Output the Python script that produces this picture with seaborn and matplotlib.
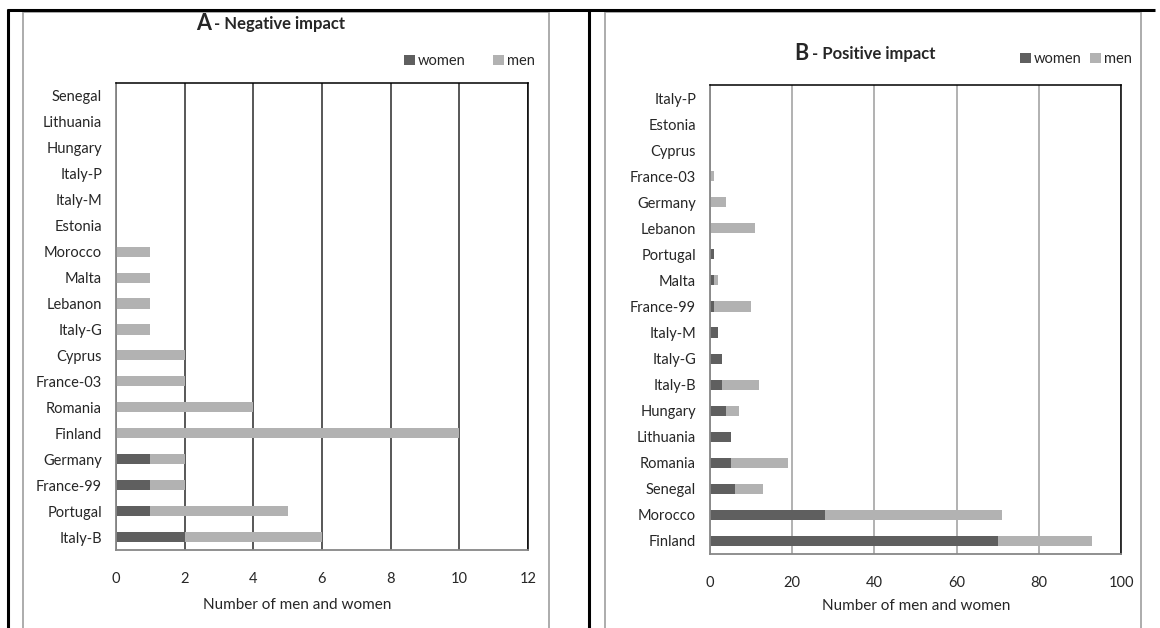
import matplotlib
matplotlib.use("Agg")
import matplotlib.pyplot as plt
from matplotlib.lines import Line2D
from matplotlib.patches import Patch
import numpy as np
import pandas as pd
import seaborn as sns

# ---------------- data ----------------
countries_a = ["Senegal", "Lithuania", "Hungary", "Italy-P", "Italy-M", "Estonia",
               "Morocco", "Malta", "Lebanon", "Italy-G", "Cyprus", "France-03",
               "Romania", "Finland", "Germany", "France-99", "Portugal", "Italy-B"]
women_a = [0, 0, 0, 0, 0, 0, 0, 0, 0, 0, 0, 0, 0, 0, 1, 1, 1, 2]
men_a = [0, 0, 0, 0, 0, 0, 1, 1, 1, 1, 2, 2, 4, 10, 1, 1, 4, 4]

countries_b = ["Italy-P", "Estonia", "Cyprus", "France-03", "Germany", "Lebanon",
               "Portugal", "Malta", "France-99", "Italy-M", "Italy-G", "Italy-B",
               "Hungary", "Lithuania", "Romania", "Senegal", "Morocco", "Finland"]
women_b = [0, 0, 0, 0, 0, 0, 1, 1, 1, 2, 3, 3, 4, 5, 5, 6, 28, 70]
men_b = [0, 0, 0, 1, 4, 11, 0, 1, 9, 0, 0, 9, 3, 0, 14, 7, 43, 23]

xticks_a = [0, 2, 4, 6, 8, 10, 12]
xticks_b = [0, 20, 40, 60, 80, 100]
series_labels = ["women", "men"]
xlabel = "Number of men and women"

# ---------------- style ----------------
sns.set_style("white")
plt.rcParams["font.family"] = ["Lato", "DejaVu Sans"]

WOMEN_C = "#5f5f5f"
MEN_C = "#b2b2b2"
AXIS_C = "#878787"

W, H = 1160, 628
fig = plt.figure(figsize=(W / 100, H / 100), dpi=100)


def fx(px):
    return px / W


def fy(py):
    return 1 - py / H


def panel(rect, countries, women, men, xticks, grid_c, tick_fs):
    ax = fig.add_axes(rect)
    df = pd.DataFrame({"country": countries, "women": women, "men": men})
    df["total"] = df["women"] + df["men"]
    sns.barplot(data=df, x="total", y="country", order=countries, color=MEN_C,
                saturation=1, width=0.39, ax=ax, linewidth=0)
    sns.barplot(data=df, x="women", y="country", order=countries, color=WOMEN_C,
                saturation=1, width=0.39, ax=ax, linewidth=0)
    ax.set_xlim(xticks[0], xticks[-1])
    ax.set_xticks(xticks)
    ax.set_xticklabels([str(t) for t in xticks], fontsize=tick_fs)
    ax.set_ylim(len(countries) - 0.5, -0.5)
    ax.set_ylabel("")
    ax.set_xlabel(xlabel, fontsize=11)
    ax.xaxis.grid(True, color=grid_c, lw=1.1)
    ax.yaxis.grid(False)
    ax.set_axisbelow(True)
    for s in ["top", "right"]:
        ax.spines[s].set_color("#000000")
        ax.spines[s].set_linewidth(1.1)
    for s in ["left", "bottom"]:
        ax.spines[s].set_color(AXIS_C)
        ax.spines[s].set_linewidth(1.3)
    ax.tick_params(axis="y", which="major", length=0, labelsize=tick_fs, pad=10)
    ax.set_yticks(np.arange(-0.5, len(countries) + 0.5, 1), minor=True)
    ax.tick_params(axis="y", which="minor", length=4, direction="out", color=AXIS_C, width=1.2)
    ax.tick_params(axis="x", which="major", length=8, direction="inout", color=AXIS_C,
                   width=1.2, pad=12)
    return ax


ax_a = panel([fx(116), fy(550), fx(528 - 116), (550 - 83) / H],
             countries_a, women_a, men_a, xticks_a, "#2a2a2a", 10.5)
ax_b = panel([fx(710), fy(554), fx(1121 - 710), (554 - 85) / H],
             countries_b, women_b, men_b, xticks_b, "#9c9c9c", 10.5)

# x-axis label positions (figure pixel centers)
ax_a.xaxis.set_label_coords(fx(297), fy(605), transform=fig.transFigure)
ax_b.xaxis.set_label_coords(fx(916), fy(606), transform=fig.transFigure)
ax_a.xaxis.label.set_va("center")
ax_b.xaxis.label.set_va("center")

# legends
handles = [Patch(facecolor=WOMEN_C, edgecolor="none"), Patch(facecolor=MEN_C, edgecolor="none")]
ax_a.legend(handles, series_labels, ncol=2, frameon=False, loc="center right",
            bbox_to_anchor=(fx(535), fy(61)), bbox_transform=fig.transFigure,
            fontsize=10.5, handlelength=0.75, handleheight=0.75, handletextpad=0.2,
            columnspacing=1.9, borderaxespad=0, borderpad=0)
ax_b.legend(handles, series_labels, ncol=2, frameon=False, loc="center right",
            bbox_to_anchor=(fx(1132), fy(59)), bbox_transform=fig.transFigure,
            fontsize=10.5, handlelength=0.75, handleheight=0.75, handletextpad=0.2,
            columnspacing=0.6, borderaxespad=0, borderpad=0)

# titles
fig.text(fx(211), fy(23), "A", fontsize=15.5, fontweight="bold", ha="right", va="center")
fig.text(fx(214), fy(24), "- Negative impact", fontsize=12, fontweight="bold",
         ha="left", va="center")
fig.text(fx(808), fy(53), "B", fontsize=15.5, fontweight="bold", ha="right", va="center")
fig.text(fx(812), fy(54), "- Positive impact", fontsize=12, fontweight="bold",
         ha="left", va="center")

# decorative frame lines (table cells / chart borders)
def fline(x0, y0, x1, y1, color, lw):
    fig.add_artist(Line2D([fx(x0), fx(x1)], [fy(y0), fy(y1)], color=color, lw=lw,
                          transform=fig.transFigure, solid_capstyle="butt"))

GRAY_B = "#a6a6a6"
fline(23, 12, 549, 12, GRAY_B, 1.3)
fline(23, 12, 23, 628, GRAY_B, 1.3)
fline(549, 12, 549, 628, GRAY_B, 1.3)
fline(605, 12, 1141, 12, GRAY_B, 1.3)
fline(605, 12, 605, 628, GRAY_B, 1.3)
fline(1141, 12, 1141, 628, GRAY_B, 1.3)
fline(7, 10, 1155, 10, "#000000", 2.2)
fline(8, 9, 8, 628, "#000000", 2.2)
fline(589, 9, 589, 628, "#000000", 2.2)

fig.savefig("out.png", dpi=100)
